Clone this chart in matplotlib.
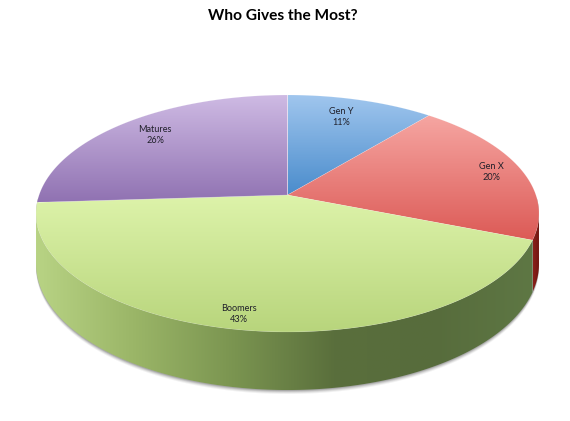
import numpy as np
import matplotlib
matplotlib.use("Agg")
import matplotlib.pyplot as plt
from matplotlib.colors import LinearSegmentedColormap
from matplotlib.patches import Polygon

title = "Who Gives the Most?"
labels = ["Gen Y", "Gen X", "Boomers", "Matures"]
values = [11, 20, 43, 26]

# top face goes light to dark from the wedge top to its bottom
top_colors = [["#a0c6ee", "#4a8ccc"],
              ["#f6a6a2", "#dc5a56"],
              ["#ddf3aa", "#b8d57c"],
              ["#cfbbe4", "#9072b2"]]
side_colors = [["#3c6aa0", "#3c6aa0"],
               ["#8a211b", "#6e1510"],
               ["#b8d384", "#9ab567", "#7a9450", "#5a6f3c", "#576c3c", "#5e7744"],
               ["#6f5590", "#6f5590"]]
label_pos = [(341, 117), (491, 172), (239, 314), (155, 135)]

# pie geometry in image pixels, with a perspective term so the centre sits high
cx, cy = 287.5, 195
sx, sy, persp = 248.4, 115.6, 0.156
depth = 49

plt.rcParams["font.family"] = ["Lato", "DejaVu Sans"]


def project(angle, drop=0.0):
    """angle in degrees clockwise from 12 o'clock"""
    a = np.radians(angle)
    x = np.sin(a)
    y = np.cos(a)
    d = 1 + persp * y
    return cx + sx * x / d, cy - sy * y / d + drop * depth / d


def gradient(ax, pts, colors, vertical=True):
    cmap = LinearSegmentedColormap.from_list("g", colors)
    x0, x1 = pts[:, 0].min(), pts[:, 0].max()
    y0, y1 = pts[:, 1].min(), pts[:, 1].max()
    ramp = np.linspace(0, 1, 256)
    ramp = ramp[:, None] if vertical else ramp[None, :]
    im = ax.imshow(ramp, cmap=cmap, extent=[x0, x1, y1, y0], aspect="auto",
                   interpolation="bilinear", zorder=2)
    im.set_clip_path(Polygon(pts, closed=True, transform=ax.transData))


def main():
    fig = plt.figure(figsize=(5.70, 4.21), dpi=100)
    ax = fig.add_axes([0, 0, 1, 1])
    ax.axis("off")

    edges = np.concatenate([[0], np.cumsum(values)]) / np.sum(values) * 360
    # part of the rim that faces the viewer
    vis0, vis1 = 99.0, 261.0

    # soft shadow below the rim
    rim = np.linspace(vis0 - 8, vis1 + 8, 200)
    for grow, alpha in [(4.0, 0.08), (3.0, 0.12), (2.0, 0.18), (1.0, 0.25)]:
        bx, by = project(rim, 1.0)
        tx, ty = project(rim[::-1])
        pts = np.column_stack([np.r_[bx, tx], np.r_[by + grow, ty]])
        ax.add_patch(Polygon(pts, closed=True, fc="#555555", ec="none",
                             alpha=alpha, zorder=1))

    for i in range(len(values)):
        a0, a1 = max(edges[i], vis0), min(edges[i + 1], vis1)
        if a1 <= a0:
            continue
        t = np.linspace(a0, a1, 150)
        tx, ty = project(t)
        bx, by = project(t[::-1], 1.0)
        pts = np.column_stack([np.r_[tx, bx], np.r_[ty, by]])
        gradient(ax, pts, side_colors[i], vertical=False)

    for i in range(len(values)):
        t = np.linspace(edges[i], edges[i + 1], 200)
        ex, ey = project(t)
        pts = np.column_stack([np.r_[cx, ex], np.r_[cy, ey]])
        gradient(ax, pts, top_colors[i])
        ax.add_patch(Polygon(pts, closed=True, fc="none", ec="#ffffff",
                             lw=0.4, alpha=0.2, zorder=3))

    for name, v, (lx, ly) in zip(labels, values, label_pos):
        ax.text(lx, ly, "%s\n%d%%" % (name, v), ha="center", va="center",
                fontsize=6.6, color="#20202a", linespacing=1.25, zorder=4)

    ax.text(283, 16, title, ha="center", va="center", fontsize=11.2,
            fontweight="bold", color="black")
    ax.set_xlim(0, 570)
    ax.set_ylim(421, 0)
    fig.savefig("out.png", dpi=100)


if __name__ == "__main__":
    main()
